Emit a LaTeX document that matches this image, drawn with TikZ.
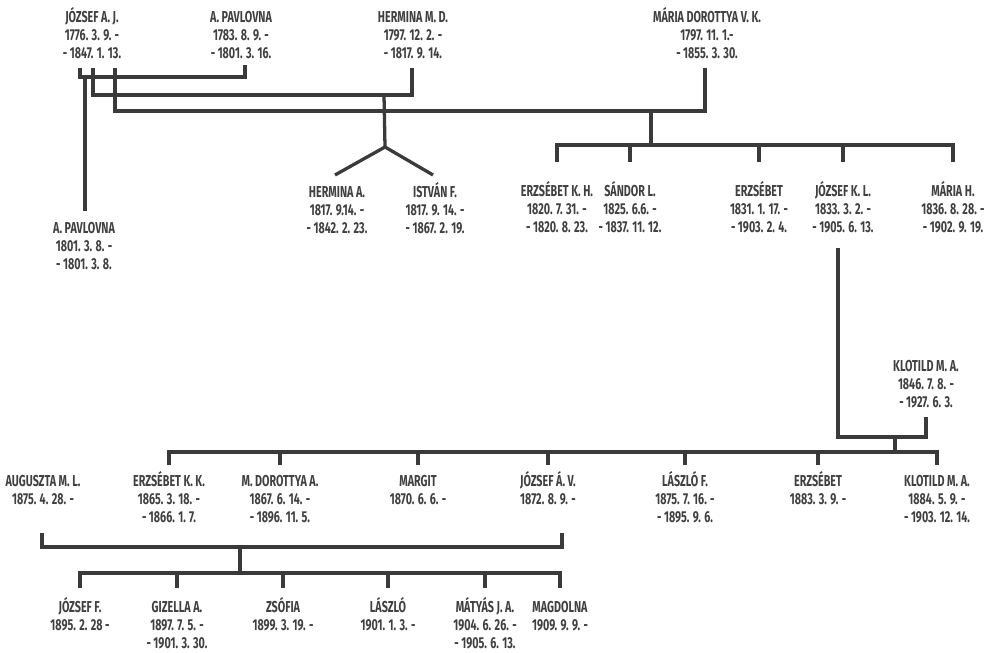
\documentclass[tikz,border=0pt]{standalone}
\usepackage{fontspec}
\setmainfont{Fira Sans}[FakeStretch=0.68]
\usetikzlibrary{calc}
\definecolor{inkgray}{RGB}{58,58,58}
\definecolor{txtgray}{RGB}{64,64,64}

\begin{document}
\begin{tikzpicture}[x=0.03cm, y=-0.03cm,
        person/.style={anchor=south, align=center, inner sep=0pt, text=txtgray,
                       font=\fontsize{13.5}{15.4}\selectfont\bfseries},
        link/.style={draw=inkgray, line width=2.8pt}
    ]
    \useasboundingbox (0,0) rectangle (993,652);

    %% ── first generation ────────────────────────────────────────────────
    \node[person] (jozsefAJ)  at (92,59)  {JÓZSEF A. J.\\1776. 3. 9. -\\- 1847. 1. 13.};
    \node[person] (pavlovnaA) at (241,59) {A. PAVLOVNA\\1783. 8. 9. -\\- 1801. 3. 16.};
    \node[person] (herminaMD) at (413,59) {HERMINA M. D.\\1797. 12. 2. -\\- 1817. 9. 14.};
    \node[person] (mariaDV)   at (707,59) {MÁRIA DOROTTYA V. K.\\1797. 11. 1.-\\- 1855. 3. 30.};

    %% ── children of the three marriages ─────────────────────────────────
    \node[person] (paulaB)   at (84,270)  {A. PAVLOVNA\\1801. 3. 8. -\\- 1801. 3. 8.};
    \node[person] (herminaA) at (337,234) {HERMINA A.\\1817. 9.14. -\\- 1842. 2. 23.};
    \node[person] (istvanF)  at (435,234) {ISTVÁN F.\\1817. 9. 14. -\\- 1867. 2. 19.};

    \node[person] (erzsebetKH) at (557,233) {ERZSÉBET K. H.\\1820. 7. 31. -\\- 1820. 8. 23.};
    \node[person] (sandorL)    at (630,233) {SÁNDOR L.\\1825. 6.6. -\\- 1837. 11. 12.};
    \node[person] (erzsebetB)  at (759,233) {ERZSÉBET\\1831. 1. 17. -\\- 1903. 2. 4.};
    \node[person] (jozsefKL)   at (843,233) {JÓZSEF K. L.\\1833. 3. 2. -\\- 1905. 6. 13.};
    \node[person] (mariaH)     at (953,233) {MÁRIA H.\\1836. 8. 28. -\\- 1902. 9. 19.};

    \node[person] (klotildMA)  at (926,408) {KLOTILD M. A.\\1846. 7. 8. -\\- 1927. 6. 3.};

    %% ── third generation ────────────────────────────────────────────────
    \node[person] (augusztaML) at (43,505)  {AUGUSZTA M. L.\\1875. 4. 28. -};
    \node[person] (erzsebetKK) at (169,523) {ERZSÉBET K. K.\\1865. 3. 18. -\\- 1866. 1. 7.};
    \node[person] (dorottyaMA) at (280,523) {M. DOROTTYA A.\\1867. 6. 14. -\\- 1896. 11. 5.};
    \node[person] (margit)     at (418,505) {MARGIT\\1870. 6. 6. -};
    \node[person] (jozsefAV)   at (548,505) {JÓZSEF Á. V.\\1872. 8. 9. -};
    \node[person] (laszloF)    at (685,523) {LÁSZLÓ F.\\1875. 7. 16. -\\- 1895. 9. 6.};
    \node[person] (erzsebetC)  at (818,505) {ERZSÉBET\\1883. 3. 9. -};
    \node[person] (klotildMB)  at (937,523) {KLOTILD M. A.\\1884. 5. 9. -\\- 1903. 12. 14.};

    %% ── fourth generation ───────────────────────────────────────────────
    \node[person] (jozsefF)  at (80,631)  {JÓZSEF F.\\1895. 2. 28 -};
    \node[person] (gizellaA) at (177,649) {GIZELLA A.\\1897. 7. 5. -\\- 1901. 3. 30.};
    \node[person] (zsofia)   at (283,631) {ZSÓFIA\\1899. 3. 19. -};
    \node[person] (laszlo)   at (388,631) {LÁSZLÓ\\1901. 1. 3. -};
    \node[person] (matyasJA) at (485,649) {MÁTYÁS J. A.\\1904. 6. 26. -\\- 1905. 6. 13.};
    \node[person] (magdolna) at (560,631) {MAGDOLNA\\1909. 9. 9. -};

    %% ── junctions ───────────────────────────────────────────────────────
    \coordinate (wedA)  at (85,77);
    \coordinate (wedB)  at (384,95);
    \coordinate (wedC)  at (651,111);
    \coordinate (fork)  at (385,147);
    \coordinate (kidsC) at (651,145);
    \coordinate (wedD)  at (895,437);
    \coordinate (kidsD) at (895,452);
    \coordinate (wedE)  at (240,547);
    \coordinate (kidsE) at (240,573);

    %% marriages of József A. J.
    \draw[link] ($(jozsefAJ.south)+(-12,9)$) |- (wedA) -| ($(pavlovnaA.south)+(4,6)$);
    \draw[link] ($(jozsefAJ.south)+(1,9)$)   |- (wedB) -| ($(herminaMD.south)+(-1,9)$);
    \draw[link] ($(jozsefAJ.south)+(23,9)$)  |- (wedC) -| ($(mariaDV.south)+(-2,9)$);

    %% their children
    \draw[link] (wedA) -- ($(wedA |- paulaB.north)+(0,-11)$);
    \draw[link] (wedB) -- (fork);
    \draw[link] ($(herminaA.south)+(-2,-59)$) -- (fork) -- ($(istvanF.south)+(-2,-59)$);
    \draw[link] (wedC) -- (kidsC);
    \draw[link] ($(erzsebetKH |- kidsC)+(0,17)$) |- (kidsC) -| ($(mariaH |- kidsC)+(0,17)$);
    \foreach \kid in {sandorL,erzsebetB,jozsefKL}
        \draw[link] (\kid |- kidsC) -- ++(0,17);

    %% József K. L. + Klotild M. A.
    \draw[link] ($(jozsefKL.south)+(-5,15)$) |- (wedD) -| ($(klotildMA.south)+(0,9)$);
    \draw[link] (wedD) -- (kidsD);
    \draw[link] ($(erzsebetKK |- kidsD)+(0,13)$) |- (kidsD) -| ($(klotildMB |- kidsD)+(0,13)$);
    \foreach \kid in {dorottyaMA,margit,jozsefAV,laszloF,erzsebetC}
        \draw[link] (\kid |- kidsD) -- ++(0,13);

    %% Auguszta M. L. + József Á. V.
    \draw[link] ($(augusztaML.south)+(-1,28)$) |- (wedE) -| ($(jozsefAV.south)+(14,28)$);
    \draw[link] (wedE) -- (kidsE);
    \draw[link] ($(jozsefF |- kidsE)+(0,15)$) |- (kidsE) -| ($(magdolna |- kidsE)+(0,15)$);
    \foreach \kid in {gizellaA,zsofia,laszlo,matyasJA}
        \draw[link] (\kid |- kidsE) -- ++(0,15);

\end{tikzpicture}
\end{document}
